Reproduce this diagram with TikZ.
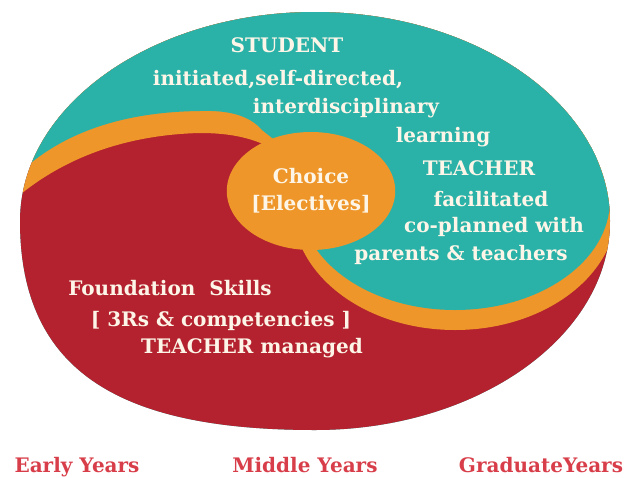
\documentclass[tikz,border=0pt]{standalone}
\usepackage{fontspec}
\setmainfont{DejaVu Serif}
\usepackage{tikz}
\usetikzlibrary{shapes.geometric}

\definecolor{tealc}{RGB}{42,178,168}
\definecolor{redc}{RGB}{179,34,46}
\definecolor{orangec}{RGB}{238,150,42}
\definecolor{creamc}{RGB}{253,246,232}
\definecolor{labelc}{RGB}{216,62,74}

\begin{document}
\begin{tikzpicture}[x=1pt,y=-1pt,
  txt/.style={text=creamc,font=\bfseries\fontsize{20}{22}\selectfont,inner sep=0pt,anchor=base},
  yrs/.style={text=labelc,font=\bfseries\fontsize{20}{22}\selectfont,inner sep=0pt,anchor=base},
  choicebox/.style={ellipse,fill=orangec,text=creamc,minimum width=162pt,minimum height=118pt,
    inner sep=0pt,align=center,font=\bfseries\fontsize{20}{27}\selectfont}]
\useasboundingbox (0,0) rectangle (629,477);
\def\outline{(20,221) .. controls (20,106) and (152,12) .. (315,12) .. controls (478,12) and (610,106) .. (610,221) .. controls (610,336) and (478,430) .. (315,430) .. controls (125,430) and (20,375) .. cycle}
\fill[tealc] \outline;
\begin{scope}
\clip \outline;
\fill[redc] (0,0) rectangle (629,477);
% orange band over the red part
\fill[orangec] (-5,218) .. controls (45,165) and (115,135) .. (200,133) .. controls (230,133) and (250,138) .. (265,145) -- (300,200) -- (640,200) -- (640,-5) -- (-5,-5) -- cycle;
\fill[orangec] (455,208) ellipse [x radius=162, y radius=122];
% teal part
\fill[tealc] (-5,200) .. controls (40,140) and (110,112) .. (200,111) .. controls (230,110) and (250,116) .. (262,130) -- (300,160) -- (640,160) -- (640,-5) -- (-5,-5) -- cycle;
\fill[tealc] (455,200) ellipse [x radius=155, y radius=110];
\end{scope}
\node[choicebox] (choice) at (311,191) {Choice\\{}[Electives]};

\node[txt] (student) at (287,52) {STUDENT};
\node[txt] (initiated) at (278,85) {initiated,self-directed,};
\node[txt] (inter) at (346,113) {interdisciplinary};
\node[txt] (learning) at (443,142) {learning};
\node[txt] (teacher) at (479,175) {TEACHER};
\node[txt] (facil) at (491,206) {facilitated};
\node[txt] (coplan) at (494,232) {co-planned with};
\node[txt] (parents) at (461,260) {parents \& teachers};
\node[txt] (found) at (170,295) {Foundation\ \ Skills};
\node[txt] (threers) at (221,326) {[ 3Rs \& competencies ]};
\node[txt] (managed) at (252,353) {TEACHER managed};

\node[yrs] (early) at (77,472) {Early Years};
\node[yrs] (middle) at (305,472) {Middle Years};
\node[yrs] (grad) at (541,472) {GraduateYears};
\end{tikzpicture}
\end{document}
